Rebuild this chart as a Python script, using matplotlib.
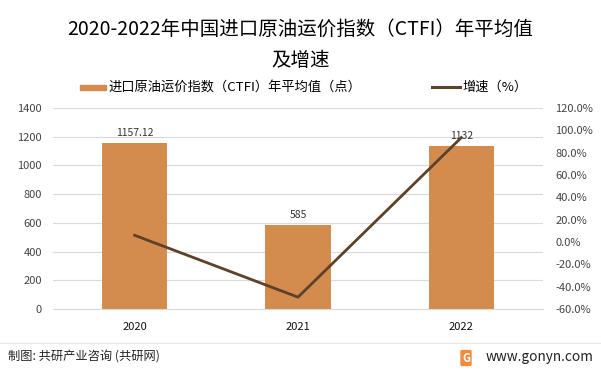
import numpy as np
import matplotlib.pyplot as plt
from matplotlib.lines import Line2D
from matplotlib.patches import Rectangle

plt.rcParams['font.family'] = ['Noto Sans CJK SC', 'DejaVu Sans']

years = ['2020', '2021', '2022']
index_vals = [1157.12, 585, 1132]
growth = [6.0, -49.4, 93.5]
bar_labels = ['1157.12', '585', '1132']

bar_color = '#D48B4E'
line_color = '#5E4129'

W, H = 601, 372
fig = plt.figure(figsize=(W / 100, H / 100), dpi=100)
ax = fig.add_axes([53 / W, 1 - 309 / H, 490 / W, 201 / H])
x = np.arange(len(years))
ax.bar(x, index_vals, width=0.4, color=bar_color, zorder=2)
for xi, v, lab in zip(x, index_vals, bar_labels):
    ax.text(xi, v + 35, lab, ha='center', va='bottom', fontsize=7.5, color='#333333')
ax.set_xlim(-0.5, 2.5)
ax.set_ylim(0, 1400)
ax.set_yticks(range(0, 1401, 200))
ax.grid(axis='y', color='#D9D9D9', linewidth=0.8, zorder=0)
ax.set_xticks(x)
ax.set_xticklabels(years)
for s in ['top', 'right', 'left']:
    ax.spines[s].set_visible(False)
ax.spines['bottom'].set_color('#D9D9D9')
ax.tick_params(axis='both', length=0, labelsize=8, colors='#444444')
ax.tick_params(axis='x', pad=9, colors='#111111')
ax.tick_params(axis='y', pad=8)

ax2 = ax.twinx()
ax2.plot(x, growth, color=line_color, linewidth=2, zorder=3)
ax2.set_ylim(-60, 120)
ax2.set_yticks(range(-60, 121, 20))
ax2.set_yticklabels([f'{t:.1f}%' for t in range(-60, 121, 20)])
for s in ax2.spines.values():
    s.set_visible(False)
ax2.tick_params(axis='y', length=0, labelsize=8, colors='#444444', pad=9)

# title
fig.text(0.5, 1 - 29 / H, '2020-2022年中国进口原油运价指数（CTFI）年平均值', ha='center', va='center', fontsize=14)
fig.text(0.5, 1 - 61 / H, '及增速', ha='center', va='center', fontsize=14)

# legend
ly = 1 - 87 / H
fig.add_artist(Rectangle((80 / W, ly - 2.5 / H), 26 / W, 5 / H, color=bar_color, transform=fig.transFigure))
fig.text(108 / W, ly, '进口原油运价指数（CTFI）年平均值（点）', ha='left', va='center', fontsize=9.5)
fig.add_artist(Line2D([432 / W, 460 / W], [ly, ly], color=line_color, linewidth=2.2))
fig.text(462 / W, ly, '增速（%）', ha='left', va='center', fontsize=9.5)

# footer
fig.add_artist(Line2D([0, 1], [1 - 343 / H, 1 - 343 / H], color='#E5E5E5', linewidth=0.8))
fig.text(8 / W, 1 - 357 / H, '制图: 共研产业咨询 (共研网)', ha='left', va='center', fontsize=8.8, color='#222222')
fig.text(594 / W, 1 - 357 / H, 'www.gonyn.com', ha='right', va='center', fontsize=9.8, color='#222222')
fig.text(466 / W, 1 - 358 / H, 'G', ha='center', va='center', fontsize=8, color='white', fontweight='bold',
         bbox=dict(boxstyle='round,pad=0.15', facecolor='#F08A3C', edgecolor='none'))

fig.savefig('out.png', dpi=100)
